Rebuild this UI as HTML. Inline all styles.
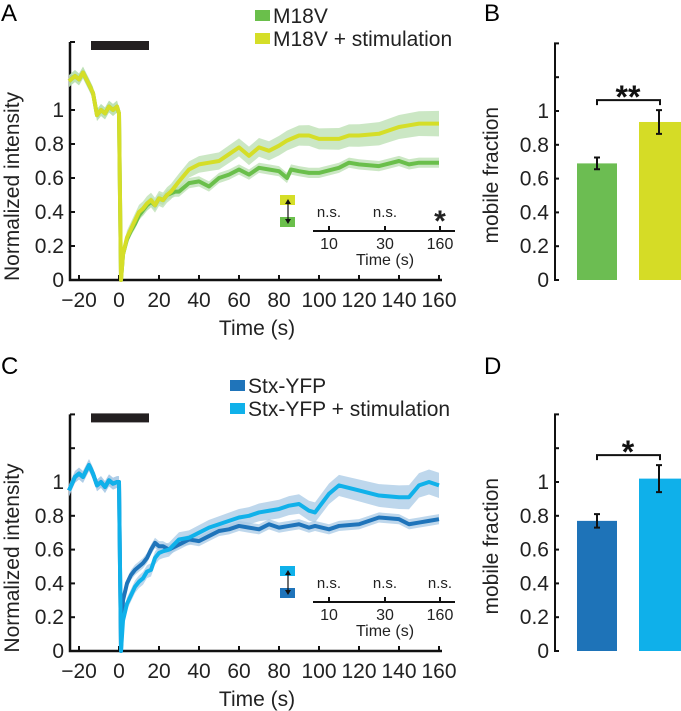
<!DOCTYPE html>
<html><head><meta charset="utf-8"><style>
body{margin:0;background:#fff;}
svg{display:block;font-family:"Liberation Sans",Arial,sans-serif;}
</style></head><body>
<svg id="fig" width="681" height="711" viewBox="0 0 681 711" xmlns="http://www.w3.org/2000/svg"></svg>
<script>
// ---- Panel A data ----
const aTimesPre=[-25,-22,-20,-18,-15,-13,-11,-9,-7,-5,-3,-1,0];
const aPre=[1.17,1.2,1.18,1.22,1.15,1.1,0.97,1.0,0.98,1.02,1.0,1.02,0.98];
const aTimes=[1,2,4,6,8,10,12,14,16,18,20,22,24,26,28,30,35,40,45,50,55,60,65,70,75,80,84,86,90,95,100,110,115,120,130,140,145,150,160];
const aGreen=[0,0.15,0.24,0.29,0.33,0.38,0.41,0.44,0.46,0.44,0.48,0.47,0.5,0.51,0.52,0.52,0.57,0.58,0.55,0.6,0.62,0.65,0.62,0.66,0.65,0.64,0.6,0.65,0.64,0.63,0.63,0.66,0.69,0.68,0.67,0.7,0.68,0.69,0.69];
const aYellow=[0,0.15,0.25,0.3,0.35,0.4,0.42,0.45,0.47,0.44,0.48,0.47,0.5,0.52,0.55,0.58,0.65,0.68,0.69,0.7,0.74,0.78,0.73,0.78,0.76,0.79,0.82,0.83,0.85,0.85,0.83,0.83,0.85,0.85,0.86,0.9,0.91,0.92,0.92];
// ---- Panel C data ----
const cTimesPre=[-25,-22,-20,-18,-15,-13,-11,-9,-7,-5,-3,-1,0];
const cPre=[0.95,1.03,1.05,1.03,1.1,1.05,0.98,1.0,0.97,1.01,0.99,1.0,1.0];
const cTimes=[1,2,4,6,8,10,12,14,16,18,20,22,25,30,35,40,45,50,55,60,65,70,75,80,85,90,95,98,105,110,120,130,140,145,150,155,160];
const cDark=[0,0.3,0.4,0.45,0.48,0.5,0.52,0.55,0.6,0.64,0.62,0.62,0.6,0.63,0.66,0.65,0.68,0.71,0.72,0.74,0.73,0.72,0.75,0.73,0.74,0.75,0.73,0.74,0.72,0.74,0.75,0.79,0.78,0.75,0.76,0.77,0.78];
const cLight=[0,0.18,0.28,0.33,0.38,0.41,0.43,0.47,0.48,0.55,0.58,0.59,0.6,0.66,0.67,0.7,0.73,0.75,0.77,0.79,0.8,0.82,0.83,0.84,0.86,0.87,0.83,0.82,0.93,0.98,0.95,0.92,0.91,0.91,0.98,1.0,0.98];
// ---- Bar data ----
const bCats=["M18V","M18V + stimulation"];
const bVals=[0.69,0.935];
const bErr=[0.035,0.07];
const dCats=["Stx-YFP","Stx-YFP + stimulation"];
const dVals=[0.77,1.02];
const dErr=[0.04,0.08];
const yTicks=[0,0.2,0.4,0.6,0.8,1];
const yTickLabels=["0","0.2","0.4","0.6","0.8","1"];
const xTicks=[-20,0,20,40,60,80,100,120,140,160];
const insetTicks=["10","30","160"];
const aSig=["n.s.","n.s.","*"];
const cSig=["n.s.","n.s.","n.s."];

const svg=document.getElementById('fig');
const NS="http://www.w3.org/2000/svg";
function mk(tag,attrs,parent,text){const e=document.createElementNS(NS,tag);for(const k in attrs)e.setAttribute(k,attrs[k]);if(text!==undefined)e.textContent=text;(parent||svg).appendChild(e);return e;}

function linePanel(o){
  const g=mk('g',{});
  
  
  const y0=o.y0, ppu=o.ppu;
  const X=t=>119+2*t, Y=v=>y0-v*ppu;
  const L=mk('text',{x:1,y:o.letterY,'font-size':24},g,o.letter);
  const ax=mk('path',{d:`M70 ${Y(1.4)} V${y0} H442`,stroke:'#111','stroke-width':2.5,fill:'none'},g);
  
  [0,0.2,0.4,0.6,0.8,1,1.2,1.4].forEach(v=>mk('line',{x1:70,x2:75,y1:Y(v),y2:Y(v),stroke:'#111','stroke-width':2},g));
  yTicks.forEach((v,i)=>{const t=mk('text',{x:64,y:Y(v)+7,'text-anchor':'end','font-size':21,fill:'#222'},g,yTickLabels[i]);});
  xTicks.forEach(v=>{mk('line',{x1:X(v),x2:X(v),y1:y0,y2:y0-5,stroke:'#111','stroke-width':2},g);
    const t=mk('text',{x:X(v),y:y0+27,'text-anchor':'middle','font-size':21,fill:'#222'},g,v<0?'\u2212'+(-v):String(v));});
  const xt=mk('text',{x:257,y:y0+55,'text-anchor':'middle','font-size':21,fill:'#222'},g,'Time (s)');
  const yt=mk('text',{x:0,y:0,'text-anchor':'middle','font-size':21,fill:'#222',transform:`translate(19 ${Y(0.55)}) rotate(-90)`},g,'Normalized intensity');
  const sb=mk('rect',{x:X(-14),y:Y(1.4)-1,width:X(15)-X(-14),height:9,fill:'#231f20'},g);
  o.series.forEach(s=>{
    const ts=o.pre.t.concat(o.t), vs=o.pre.v.concat(s.v);
    const errs=ts.map((t,i)=>t<=0?0.035:(t<2?0.01:s.err(t)));
    let up=ts.map((t,i)=>`${X(t)},${Y(vs[i]+errs[i])}`), dn=ts.map((t,i)=>`${X(t)},${Y(vs[i]-errs[i])}`).reverse();
    const band=mk('polygon',{points:up.concat(dn).join(' '),fill:s.band,opacity:0.75},g);
  });
  o.series.forEach(s=>{
    const ts=o.pre.t.concat(o.t), vs=o.pre.v.concat(s.v);
    const p=mk('polyline',{points:ts.map((t,i)=>`${X(t)},${Y(vs[i])}`).join(' '),fill:'none',stroke:s.color,'stroke-width':4,'stroke-linejoin':'round'},g);
    
  });
  o.series.forEach((s,i)=>{
    const r=mk('rect',{x:o.legX,y:o.legY+i*23-13,width:15,height:11,fill:s.color},g);
    const t=mk('text',{x:o.legX+18,y:o.legY+i*23,'font-size':21,fill:'#222'},g,s.label);
  });
  const iy=o.insetY;
  const sq1=mk('rect',{x:280,y:iy-36,width:15,height:10,fill:o.series[1].color},g);
  const sq2=mk('rect',{x:280,y:iy-14,width:15,height:10,fill:o.series[0].color},g);
  mk('line',{x1:288,x2:288,y1:iy-30,y2:iy-9,stroke:'#111','stroke-width':1.2},g);
  mk('path',{d:`M285 ${iy-27} L288 ${iy-32} L291 ${iy-27} Z M285 ${iy-12} L288 ${iy-7} L291 ${iy-12} Z`,fill:'#111'},g);
  const il=mk('line',{x1:313,x2:455,y1:iy,y2:iy,stroke:'#111','stroke-width':2},g);
  [329,385,440].forEach((x,i)=>{mk('line',{x1:x,x2:x,y1:iy,y2:iy-5,stroke:'#111','stroke-width':2},g);
    const tl=mk('text',{x:x,y:iy+18,'text-anchor':'middle','font-size':16,fill:'#222'},g,insetTicks[i]);
    const big=o.sig[i]==='*';
    const sg=mk('text',{x:x,y:big?iy:iy-14,'text-anchor':'middle','font-size':big?30:15,'font-weight':big?'bold':'normal',fill:'#222'},g,o.sig[i]);});
  const it=mk('text',{x:385,y:iy+34,'text-anchor':'middle','font-size':16,fill:'#222'},g,'Time (s)');
}

function barPanel(o){
  const g=mk('g',{});
  
  
  const y0=o.y0,ppu=o.ppu,Y=v=>y0-v*ppu;
  const L=mk('text',{x:484,y:o.letterY,'font-size':24},g,o.letter);
  const ax=mk('path',{d:`M559 ${Y(1.4)} H555 V${y0} H559`,stroke:'#111','stroke-width':2,fill:'none'},g);
  [0,0.2,0.4,0.6,0.8,1,1.2].forEach(v=>mk('line',{x1:555,x2:559,y1:Y(v),y2:Y(v),stroke:'#111','stroke-width':2},g));
  yTicks.forEach((v,i)=>{const t=mk('text',{x:549,y:Y(v)+7,'text-anchor':'end','font-size':21,fill:'#222'},g,yTickLabels[i]);});
  const yt=mk('text',{x:0,y:0,'text-anchor':'middle','font-size':21,fill:'#222',transform:`translate(498 ${Y(0.62)}) rotate(-90)`},g,'mobile fraction');
  const xs=[577,639];
  o.vals.forEach((v,i)=>{
    const b=mk('rect',{x:xs[i],y:Y(v),width:i?42:40,height:v*ppu,fill:o.colors[i]},g);
    const cx=xs[i]+20,e=o.err[i];
    const eb=mk('path',{d:`M${cx} ${Y(v+e)} V${Y(v-e)} M${cx-3} ${Y(v+e)} H${cx+3} M${cx-3} ${Y(v-e)} H${cx+3}`,stroke:'#111','stroke-width':2,fill:'none'},g);
  });
  const top=Y(Math.max(o.vals[0]+o.err[0],o.vals[1]+o.err[1]))-10;
  const br=mk('path',{d:`M597 ${top+5} V${top} H660 V${top+5}`,stroke:'#111','stroke-width':2,fill:'none'},g);
  const st=mk('text',{x:628,y:top+8,'text-anchor':'middle','font-size':32,'font-weight':'bold',fill:'#111'},g,o.star);
}

const green=t=>0.03, yellowE=t=>0.04+0.035*(t/160);
linePanel({name:'panel-a',letter:'A',letterY:21,y0:280,ppu:170,pre:{t:aTimesPre,v:aPre},t:aTimes,
  series:[{key:'m18v',label:'M18V',color:'#6abf4b',band:'#b9dfb0',v:aGreen,err:green},
          {key:'m18v-stim',label:'M18V + stimulation',color:'#d5de28',band:'#b9dfb0',v:aYellow,err:yellowE}],
  legX:255,legY:23,insetY:231,sig:aSig});
linePanel({name:'panel-c',letter:'C',letterY:374,y0:651,ppu:169,pre:{t:cTimesPre,v:cPre},t:cTimes,
  series:[{key:'stx-yfp',label:'Stx-YFP',color:'#1f74ba',band:'#a8c9e6',v:cDark,err:t=>0.03},
          {key:'stx-yfp-stim',label:'Stx-YFP + stimulation',color:'#10b1ea',band:'#a8c9e6',v:cLight,err:t=>0.035+0.04*(t/160)}],
  legX:230,legY:393,insetY:602,sig:cSig});
barPanel({name:'panel-b',letter:'B',letterY:21,y0:280,ppu:169,vals:bVals,err:bErr,cats:bCats,colors:['#6cbd52','#d5dc26'],star:'**'});
barPanel({name:'panel-d',letter:'D',letterY:374,y0:651,ppu:169,vals:dVals,err:dErr,cats:dCats,colors:['#1e73b8','#0fb0ea'],star:'*'});
</script>
</body></html>
